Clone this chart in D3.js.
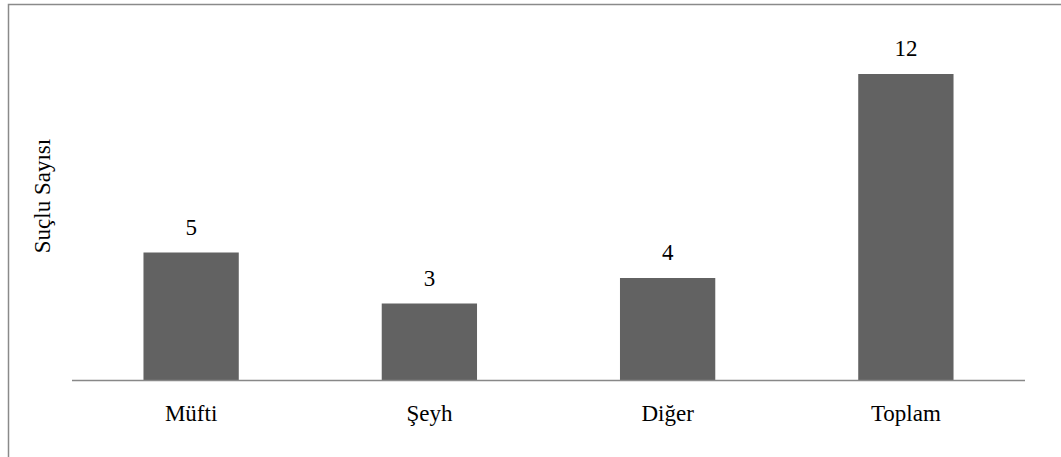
<!DOCTYPE html>
<html>
<head>
<meta charset="utf-8">
<script src="https://cdn.jsdelivr.net/npm/d3@7"></script>
<style>
  body { margin: 0; background: #fff; }
  svg text { font-family: "Liberation Serif", "Times New Roman", Times, serif; }
</style>
</head>
<body>
<div id="chart"></div>
<script>
const categories = ["Müfti", "Şeyh", "Diğer", "Toplam"];
const values = [5, 3, 4, 12];
const yTitle = "Suçlu Sayısı";

const svgWidth = 1061;
const svgHeight = 457;
const margin = { top: 74, right: 36, bottom: 77, left: 72 };
const width = svgWidth - margin.left - margin.right;
const height = svgHeight - margin.top - margin.bottom;

const svg = d3.select("#chart")
  .append("svg")
  .attr("width", svgWidth)
  .attr("height", svgHeight);

// outer frame (runs past the bottom/right of the picture)
svg.append("rect")
  .attr("x", 8.5)
  .attr("y", 4.5)
  .attr("width", svgWidth + 20)
  .attr("height", svgHeight + 20)
  .attr("fill", "none")
  .attr("stroke", "#8a8a8a")
  .attr("stroke-width", 1.5);

const g = svg.append("g")
  .attr("transform", `translate(${margin.left},${margin.top})`);

const x = d3.scaleBand()
  .domain(categories)
  .range([0, width])
  .paddingInner(0.6)
  .paddingOuter(0.3);

const y = d3.scaleLinear()
  .domain([0, d3.max(values)])
  .range([height, 0]);

const data = categories.map((c, i) => ({ cat: c, val: values[i] }));

g.selectAll(".bar")
  .data(data)
  .enter()
  .append("rect")
  .attr("class", "bar")
  .attr("x", d => x(d.cat))
  .attr("y", d => y(d.val))
  .attr("width", x.bandwidth())
  .attr("height", d => height - y(d.val))
  .attr("fill", "#626262");

// baseline
g.append("line")
  .attr("x1", 0)
  .attr("x2", width)
  .attr("y1", height + 0.5)
  .attr("y2", height + 0.5)
  .attr("stroke", "#888")
  .attr("stroke-width", 1.5);

// value labels
g.selectAll(".val")
  .data(data)
  .enter()
  .append("text")
  .attr("class", "val")
  .attr("x", d => x(d.cat) + x.bandwidth() / 2)
  .attr("y", d => y(d.val) - 18)
  .attr("text-anchor", "middle")
  .attr("font-size", 23)
  .text(d => d.val);

// category labels
g.selectAll(".cat")
  .data(categories)
  .enter()
  .append("text")
  .attr("class", "cat")
  .attr("x", d => x(d) + x.bandwidth() / 2)
  .attr("y", height + 41)
  .attr("text-anchor", "middle")
  .attr("font-size", 23)
  .text(d => d);

// y title
svg.append("text")
  .attr("transform", `translate(50,196) rotate(-90)`)
  .attr("text-anchor", "middle")
  .attr("font-size", 23)
  .text(yTitle);
</script>
</body>
</html>
